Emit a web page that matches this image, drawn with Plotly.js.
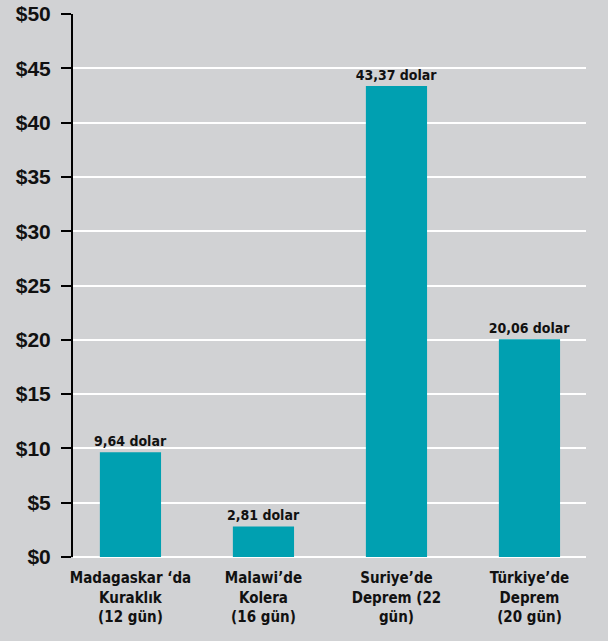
<!DOCTYPE html>
<html><head><meta charset="utf-8">
<script src="https://cdn.plot.ly/plotly-3.0.1.min.js"></script>
<style>html,body{margin:0;padding:0;background:#d1d2d4;}</style>
</head><body>
<div id="chart" style="width:608px;height:641px;"></div>
<script>
const categories = ["Madagaskar ‘da<br>Kuraklık<br>(12 gün)", "Malawi’de<br>Kolera<br>(16 gün)", "Suriye’de<br>Deprem (22<br>gün)", "Türkiye’de<br>Deprem<br>(20 gün)"];
const values = [9.64, 2.81, 43.37, 20.06];
const valueLabels = ["9,64 dolar", "2,81 dolar", "43,37 dolar", "20,06 dolar"];
const tickVals = [0, 5, 10, 15, 20, 25, 30, 35, 40, 45, 50];
const tickText = ["$0", "$5", "$10", "$15", "$20", "$25", "$30", "$35", "$40", "$45", "$50"];

const narrow = "DejaVu Sans Condensed, DejaVu Sans, sans-serif";
Plotly.newPlot('chart', [{
  type: 'bar',
  x: [0, 1, 2, 3],
  y: values,
  text: valueLabels,
  textposition: 'outside',
  constraintext: 'none',
  textfont: {family: narrow, size: 14, color: '#111', weight: 'bold'},
  cliponaxis: false,
  width: 0.46,
  marker: {color: '#00a0b1'},
  hoverinfo: 'none'
}], {
  width: 608, height: 641,
  paper_bgcolor: '#d1d2d4', plot_bgcolor: '#d1d2d4',
  margin: {l: 73, r: 22, t: 14, b: 84},
  showlegend: false,
  xaxis: {
    range: [-0.432, 3.425],
    tickvals: [0, 1, 2, 3],
    ticktext: categories,
    showgrid: false, zeroline: false, showline: false, ticks: '',
    tickfont: {family: narrow, size: 15, color: '#111', weight: 'bold'},
    ticklabelstandoff: 10,
    fixedrange: true
  },
  yaxis: {
    range: [0, 50],
    tickvals: tickVals,
    ticktext: tickText,
    showgrid: true, gridcolor: '#ffffff', gridwidth: 2,
    zeroline: true, zerolinecolor: '#ffffff', zerolinewidth: 2,
    showline: true, linecolor: '#000', linewidth: 2,
    ticks: 'outside', ticklen: 10, tickwidth: 2, tickcolor: '#000',
    tickfont: {family: 'Liberation Sans, Arial, sans-serif', size: 21, color: '#111', weight: 'bold'},
    ticklabelstandoff: 6,
    fixedrange: true
  },
  bargap: 0.5
}, {staticPlot: true, displayModeBar: false});
</script>
</body></html>
